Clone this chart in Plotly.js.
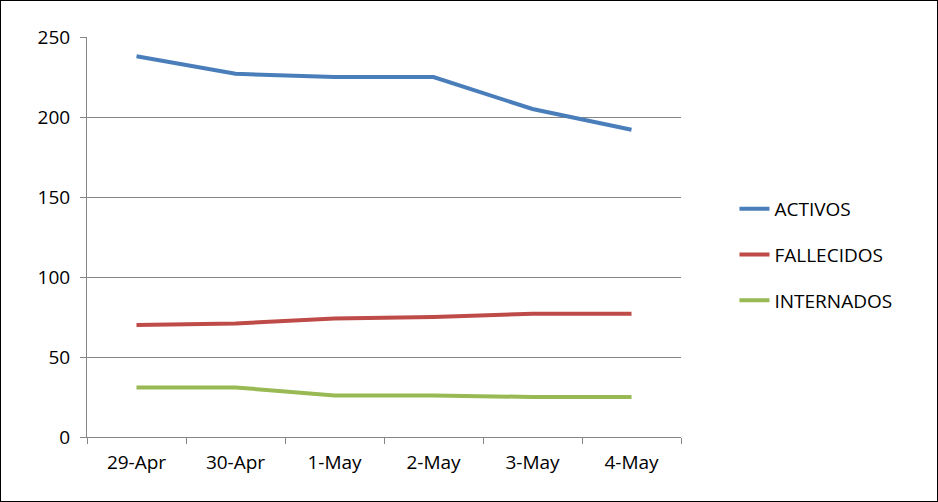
<!DOCTYPE html>
<html>
<head>
<meta charset="utf-8">
<script src="https://cdn.plot.ly/plotly-3.0.1.min.js"></script>
<style>
  body { margin: 0; background: #fff; }
  #graph { width: 936px; height: 500px; border: 1px solid #000; }
</style>
</head>
<body>
<div id="graph"></div>
<script>
var dates = ['29-Apr', '30-Apr', '1-May', '2-May', '3-May', '4-May'];
var activos = [238, 227, 225, 225, 205, 192];
var fallecidos = [70, 71, 74, 75, 77, 77];
var internados = [31, 31, 26, 26, 25, 25];

function line(name, y, color, group) {
  return {
    type: 'scatter', mode: 'lines', x: dates, y: y, name: name,
    legendgroup: group,
    line: { color: color, width: 4 }
  };
}

var data = [
  line('ACTIVOS', activos, '#4a7ebb', 'a'),
  line('FALLECIDOS', fallecidos, '#be4b48', 'b'),
  line('INTERNADOS', internados, '#98b954', 'c')
];

var layout = {
  width: 936, height: 500,
  margin: { l: 86, r: 256, t: 36, b: 64 },
  paper_bgcolor: '#fff', plot_bgcolor: '#fff',
  font: { family: 'Open Sans, Liberation Sans, sans-serif', size: 19, color: '#000' },
  showlegend: true,
  legend: {
    x: 1.09, y: 0.455, xanchor: 'left', yanchor: 'middle',
    traceorder: 'grouped', tracegroupgap: 18,
    font: { size: 19 }
  },
  xaxis: {
    type: 'category', range: [-0.5, 5.5], showgrid: false, showline: true, linecolor: '#868686',
    ticks: 'outside', tickson: 'boundaries', ticklen: 6, tickcolor: '#868686',
    ticklabelstandoff: 8, fixedrange: true
  },
  yaxis: {
    range: [0, 250], dtick: 50, showgrid: true, gridcolor: '#868686',
    showline: true, linecolor: '#868686', ticks: 'outside', ticklen: 6,
    tickcolor: '#868686', zeroline: false, ticklabelstandoff: 6, fixedrange: true
  }
};

Plotly.newPlot('graph', data, layout, { displayModeBar: false, staticPlot: true });
</script>
</body>
</html>
